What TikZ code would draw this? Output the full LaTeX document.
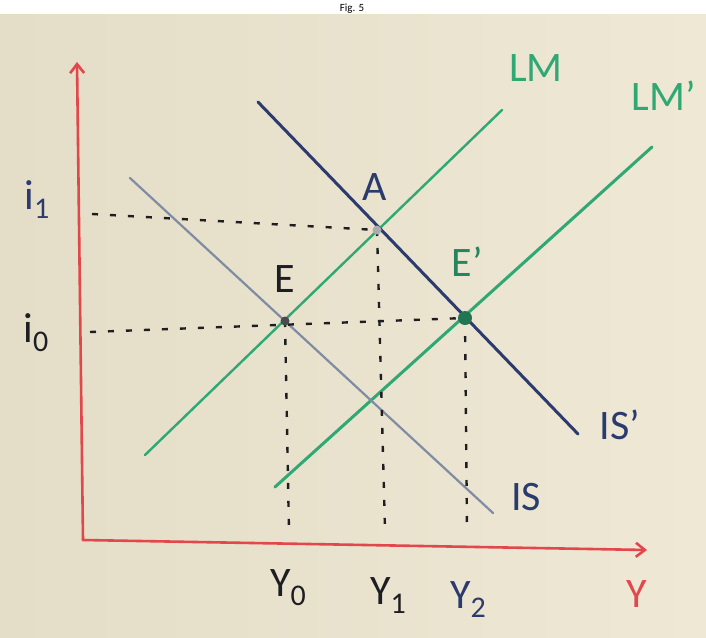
\documentclass[tikz,border=0pt]{standalone}
\usepackage{fontspec}
\setmainfont{Carlito}
\usepackage{xcolor}
\usetikzlibrary{arrows.meta,positioning,calc}
\definecolor{board}{HTML}{E4DDC7}
\definecolor{boardR}{HTML}{EEE8D5}
\definecolor{axred}{HTML}{E2474B}
\definecolor{lmgreen}{HTML}{2FA874}
\definecolor{isblue}{HTML}{2C3B6E}
\definecolor{isgrey}{HTML}{7F8CA3}
\definecolor{ink}{HTML}{1E1E22}
% handwritten subscript
\newcommand{\hsub}[1]{\raisebox{-9pt}{\fontsize{30}{30}\selectfont #1}}

\begin{document}
\begin{tikzpicture}[x=1pt,y=-1pt,>={Straight Barb[length=9pt,width=14pt]},
  axis/.style={draw=axred,line width=2.6pt,line cap=round},
  lmline/.style={draw=lmgreen,line width=3pt,line cap=round},
  isline/.style={draw=isblue,line width=3pt,line cap=round},
  isline2/.style={draw=isgrey,line width=2.2pt,line cap=round},
  guide/.style={draw=ink,line width=2.4pt,dash pattern=on 6pt off 12pt},
  lbl/.style={font=\fontsize{42}{44}\selectfont,inner sep=0pt},
  ptdot/.style={circle,fill=#1,inner sep=0pt,minimum size=9pt}]
\useasboundingbox (0,0) rectangle (706,637);
% photo of the board
\fill[white] (0,0) rectangle (706,637);
\shade[left color=board,right color=boardR] (0,14) rectangle (706,637);
\node[anchor=base,font=\fontsize{11}{12}\selectfont] (cap) at (352,11) {Fig. 5};
% axes
\coordinate (O) at (83,540);
\coordinate (ytip) at (77,62);
\coordinate (xtip) at (647,550);
\draw[axis,->] (O) -- (ytip);
\draw[axis,->] (O) -- (xtip);
\node[lbl,text=axred] (ylab) at (637,594) {Y};
% equilibrium points
\coordinate (E) at (285,321);
\coordinate (A) at (377,230);
\coordinate (Ep) at (465,318);
% LM and LM'
\coordinate (lm0) at (145,455);
\coordinate (lm1) at (502,110);
\coordinate (lmp0) at (275,487);
\coordinate (lmp1) at (652,147);
\draw[lmline,line width=2.4pt] (lm0) -- (lm1);
\draw[lmline] (lmp0) -- (lmp1);
\node[lbl,text=lmgreen] (LM) at (536,68) {LM};
\node[lbl,text=lmgreen] (LMp) at (664,96) {LM'};
% IS and IS'
\coordinate (is0) at (130,178);
\coordinate (is1) at (493,513);
\coordinate (isp0) at (258,102);
\coordinate (isp1) at (578,434);
\draw[isline2] (is0) -- (is1);
\draw[isline] (isp0) -- (isp1);
\node[lbl,text=isblue] (IS) at (526,497) {IS};
\node[lbl,text=isblue] (ISp) at (620,425) {IS'};
% dashed guides
\coordinate (i1s) at (92,214);
\coordinate (i0s) at (90,332);
\coordinate (y0e) at (289,532);
\coordinate (y1e) at (385,530);
\coordinate (y2e) at (467,532);
\draw[guide] (i1s) -- (A);
\draw[guide] (i0s) -- (Ep);
\draw[guide] (E) -- (y0e);
\draw[guide] (A) -- (y1e);
\draw[guide] (Ep) -- (y2e);
\node[ptdot=ink!80] (Edot) at (E) {};
\node[ptdot=isgrey!60!board] (Adot) at (A) {};
\node[ptdot=lmgreen!70!black,minimum size=14pt] (Epdot) at (Ep) {};
% point labels
\node[lbl,text=ink] (Elab) at (285,279) {E};
\node[lbl,text=isblue] (Alab) at (375,187) {A};
\node[lbl,text=lmgreen!80!black] (Eplab) at (467,262) {E'};
% tick labels
\node[lbl,text=isblue] (i1) at (37,200) {i\hsub{1}};
\node[lbl,text=ink] (i0) at (36,333) {i\hsub{0}};
\node[lbl,text=ink] (Y0) at (288,588) {Y\hsub{0}};
\node[lbl,text=ink] (Y1) at (388,596) {Y\hsub{1}};
\node[lbl,text=isblue] (Y2) at (468,600) {Y\hsub{2}};
\end{tikzpicture}
\end{document}
